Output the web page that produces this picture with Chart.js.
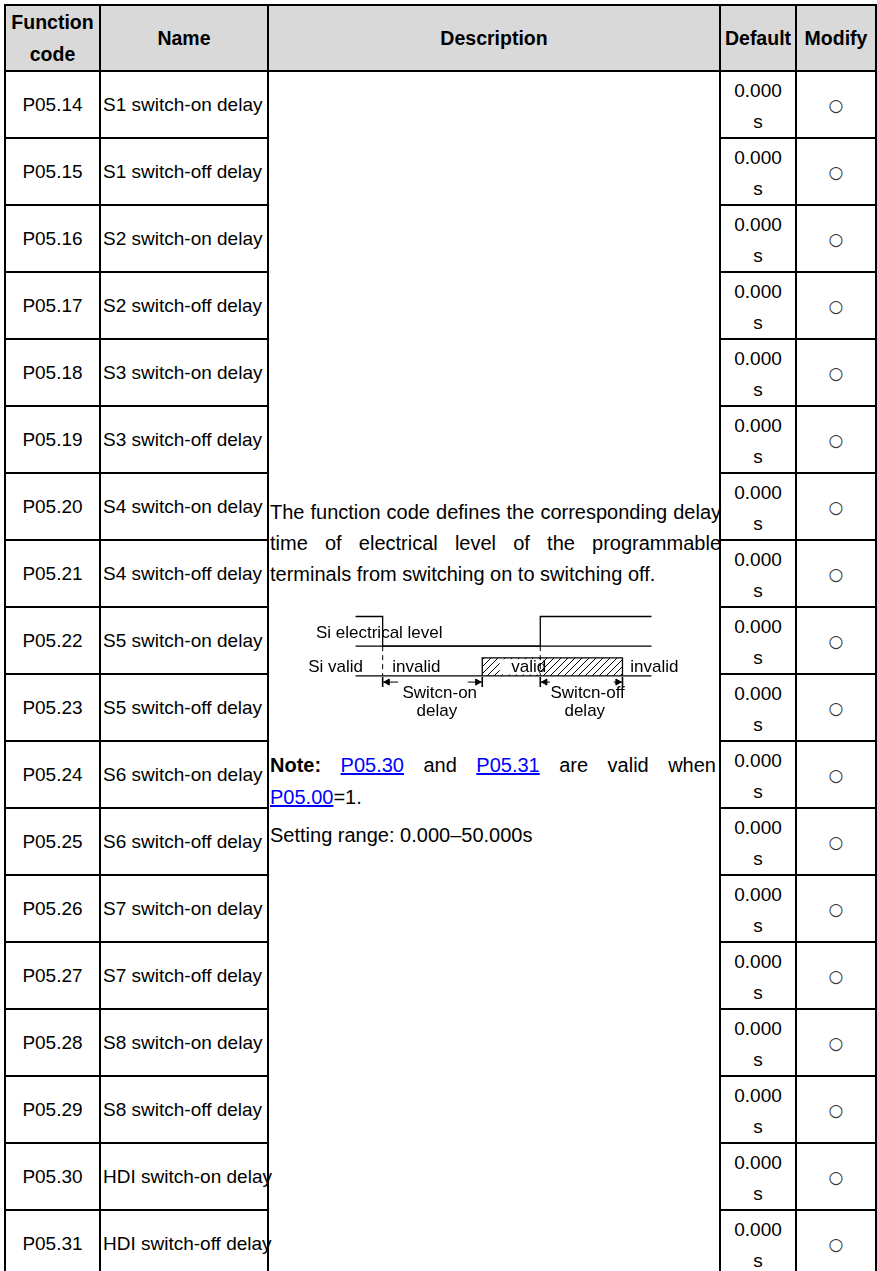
<!DOCTYPE html>
<html>
<head>
<meta charset="utf-8">
<script src="https://cdn.jsdelivr.net/npm/chart.js@4.4.1/dist/chart.umd.min.js"></script>
<style>
html, body { margin: 0; padding: 0; background: #fff; }
#page { position: relative; width: 877px; height: 1271px; overflow: hidden; font-family: 'Liberation Sans', Arial, sans-serif; color: #000; }
.cell { position: absolute; display: flex; align-items: center; justify-content: center; text-align: center; font-size: 19px; white-space: nowrap; box-sizing: border-box; }
.hd { font-weight: bold; background: #d9d9d9; line-height: 32px; font-size: 19.5px; }
.name { justify-content: flex-start; padding-left: 3px; }
.dflt { flex-direction: column; justify-content: flex-start; }
.dflt .a { line-height: 20px; margin-top: 10px; }
.dflt .b { line-height: 14px; margin-top: 14px; }
.mod { font-family: 'DejaVu Sans', sans-serif; font-size: 17px; color: #333; }
.ln { position: absolute; background: #000; }
.desc { position: absolute; left: 270px; width: 451px; font-size: 20px; text-align: justify; }
.desc a { color: #0000ff; text-decoration: underline; }
.full { text-align-last: justify; }
</style>
</head>
<body>
<div id="page">
  <div class="desc" style="top:497px; line-height:31px">The function code defines the corresponding delay time of electrical level of the programmable terminals from switching on to switching off.</div>
  <div style="position:absolute; left:290px; top:600px; width:400px; height:130px"><canvas id="diagram" width="400" height="130"></canvas></div>
  <div class="desc full" style="top:748px; line-height:34px; width:446px"><b>Note:</b> <a>P05.30</a> and <a>P05.31</a> are valid when</div>
  <div class="desc" style="top:780px; line-height:34px"><a>P05.00</a>=1.</div>
  <div class="desc" style="top:818px; line-height:34px">Setting range: 0.000–50.000s</div>
</div>
<script>
// table content
const headers = ['Function<br>code', 'Name', 'Description', 'Default', 'Modify'];
const codes = ['P05.14', 'P05.15', 'P05.16', 'P05.17', 'P05.18', 'P05.19', 'P05.20', 'P05.21', 'P05.22',
               'P05.23', 'P05.24', 'P05.25', 'P05.26', 'P05.27', 'P05.28', 'P05.29', 'P05.30', 'P05.31'];
const names = ['S1 switch-on delay', 'S1 switch-off delay', 'S2 switch-on delay', 'S2 switch-off delay',
               'S3 switch-on delay', 'S3 switch-off delay', 'S4 switch-on delay', 'S4 switch-off delay',
               'S5 switch-on delay', 'S5 switch-off delay', 'S6 switch-on delay', 'S6 switch-off delay',
               'S7 switch-on delay', 'S7 switch-off delay', 'S8 switch-on delay', 'S8 switch-off delay',
               'HDI switch-on delay', 'HDI switch-off delay'];
const defaultValues = ['0.000', '0.000', '0.000', '0.000', '0.000', '0.000', '0.000', '0.000', '0.000',
                       '0.000', '0.000', '0.000', '0.000', '0.000', '0.000', '0.000', '0.000', '0.000'];
const defaultUnits = ['s', 's', 's', 's', 's', 's', 's', 's', 's', 's', 's', 's', 's', 's', 's', 's', 's', 's'];
const modify = ['○', '○', '○', '○', '○', '○', '○', '○', '○', '○', '○', '○', '○', '○', '○', '○', '○', '○'];

// timing diagram (time in ~10px units, levels in ~10px units)
const levelT = [0, 2.8, 2.8, 19.1, 19.1, 30.6];
const levelV = [6.6, 6.6, 3.3, 3.3, 6.6, 6.6];
const lineSpan = [0, 30.6];
const levelLow = 3.3;
const validLow = 0;
const validT = [13.1, 13.1, 27.6, 27.6];
const validV = [0, 2, 2, 0];
const edgeT = [2.8, 19.1];
const arrowT = [2.8, 13.1, 19.1, 27.6];
const arrowDir = [-90, 90, -90, 90];
const shaftFrom = [2.8, 11.6, 19.1, 26.7];
const shaftTo = [4.4, 13.1, 20.1, 27.6];
const arrowY = -0.7;
const diagLabels = ['Si electrical level', 'Si valid', 'invalid', 'valid', 'invalid', 'Switcn-on', 'delay', 'Switcn-off', 'delay'];
const labelX = [-4.1, -4.9, 3.8, 16.1, 28.4, 8.7, 8.4, 24.0, 23.7];
const labelY = [4.7, 0.9, 0.9, 0.9, 0.9, -1.9, -4.0, -1.9, -4.0];
const labelAlign = ['left', 'left', 'left', 'left', 'left', 'center', 'center', 'center', 'center'];

// layout
const colEdges = [5, 100, 268, 720, 796, 876];
const headTop = 5, headBottom = 71, rowH = 67;
const page = document.getElementById('page');

function add(cls, l, t, w, h, html) {
    const d = document.createElement('div');
    d.className = cls;
    d.style.left = l + 'px'; d.style.top = t + 'px';
    d.style.width = w + 'px'; d.style.height = h + 'px';
    if (html) d.innerHTML = html;
    page.appendChild(d);
    return d;
}

for (let i = 0; i < headers.length; i++) {
    add('cell hd', colEdges[i], headTop, colEdges[i + 1] - colEdges[i], headBottom - headTop, headers[i]);
}
for (let r = 0; r < codes.length; r++) {
    const top = headBottom + r * rowH;
    add('cell', colEdges[0], top, colEdges[1] - colEdges[0], rowH, codes[r]);
    add('cell name', colEdges[1], top, colEdges[2] - colEdges[1], rowH, names[r]);
    add('cell dflt', colEdges[3], top, colEdges[4] - colEdges[3], rowH,
        '<div class="a">' + defaultValues[r] + '</div><div class="b">' + defaultUnits[r] + '</div>');
    add('cell mod', colEdges[4], top, colEdges[5] - colEdges[4], rowH, modify[r]);
}
// grid lines
add('ln', colEdges[0] - 1, headTop - 1, colEdges[5] - colEdges[0] + 2, 2);
add('ln', colEdges[0] - 1, headBottom - 1, colEdges[5] - colEdges[0] + 2, 2);
for (let r = 1; r <= codes.length; r++) {
    const y = headBottom + r * rowH;
    add('ln', colEdges[0] - 1, y - 1, colEdges[2] - colEdges[0] + 2, 2);
    add('ln', colEdges[3] - 1, y - 1, colEdges[5] - colEdges[3] + 2, 2);
}
for (const x of colEdges) add('ln', x - 1, headTop - 1, 2, 1300);

// hatch pattern for the valid window
const cv = document.getElementById('diagram');
const pc = document.createElement('canvas');
pc.width = 7; pc.height = 7;
const pg = pc.getContext('2d');
pg.strokeStyle = '#000'; pg.lineWidth = 1;
pg.beginPath();
pg.moveTo(0, 7); pg.lineTo(7, 0);
pg.moveTo(-1, 1); pg.lineTo(1, -1);
pg.moveTo(6, 8); pg.lineTo(8, 6);
pg.stroke();
const hatch = cv.getContext('2d').createPattern(pc, 'repeat');

const pts = (xs, ys) => xs.map((x, i) => ({ x: x, y: ys[i] }));
const seg = (x1, x2, y) => [{ x: x1, y: y }, { x: x2, y: y }];
const lineDs = (data, extra) => Object.assign({ data: data, showLine: true, borderColor: '#000', borderWidth: 1.3, pointRadius: 0, fill: false }, extra || {});

const datasets = [
    lineDs(pts(levelT, levelV)),
    lineDs(seg(lineSpan[0], lineSpan[1], levelLow)),
    lineDs(seg(lineSpan[0], lineSpan[1], validLow)),
    lineDs(pts(validT, validV), { fill: 'origin', backgroundColor: hatch }),
];
edgeT.forEach(t => datasets.push(lineDs([{ x: t, y: levelLow }, { x: t, y: validLow }], { borderDash: [5, 4], borderWidth: 1 })));
shaftFrom.forEach((a, i) => datasets.push(lineDs(seg(a, shaftTo[i], arrowY), { borderWidth: 1 })));
datasets.push({
    data: arrowT.map(t => ({ x: t, y: arrowY })), showLine: false, pointStyle: 'line', pointRotation: 90,
    pointRadius: 5, borderColor: '#000', borderWidth: 1.6
});
datasets.push({
    data: arrowT.map((t, i) => ({ x: t + (arrowDir[i] < 0 ? 0.5 : -0.5), y: arrowY })), showLine: false,
    pointStyle: 'triangle', pointRotation: arrowDir, pointRadius: 3.5,
    backgroundColor: '#000', borderColor: '#000', borderWidth: 1
});

const labelPlugin = {
    id: 'diagLabels',
    afterDatasetsDraw(chart) {
        const ctx = chart.ctx, x = chart.scales.x, y = chart.scales.y;
        ctx.save();
        ctx.font = '17px "Liberation Sans", Arial, sans-serif';
        ctx.textBaseline = 'middle';
        // white gap behind "valid" inside the hatch
        ctx.fillStyle = '#fff';
        const bx = x.getPixelForValue(14.9), ex = x.getPixelForValue(edgeT[1]);
        ctx.fillRect(bx, y.getPixelForValue(1.85), ex - bx - 1, y.getPixelForValue(0.15) - y.getPixelForValue(1.85));
        diagLabels.forEach((t, i) => {
            ctx.textAlign = labelAlign[i];
            ctx.fillStyle = '#000';
            ctx.fillText(t, x.getPixelForValue(labelX[i]), y.getPixelForValue(labelY[i]));
        });
        ctx.restore();
    }
};

new Chart(cv, {
    type: 'scatter',
    data: { datasets: datasets },
    options: {
        responsive: false, animation: false, devicePixelRatio: 1,
        layout: { padding: 0 },
        scales: {
            x: { type: 'linear', min: -6.1, max: 33.9, display: false },
            y: { type: 'linear', min: -5.3, max: 7.7, display: false }
        },
        plugins: { legend: { display: false }, tooltip: { enabled: false } }
    },
    plugins: [labelPlugin]
});
</script>
</body>
</html>
